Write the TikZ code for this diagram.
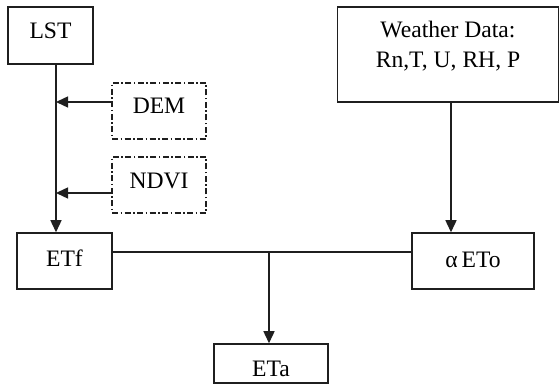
\documentclass[tikz,border=0pt]{standalone}
\usepackage{fontspec}
\setmainfont{Liberation Serif}
\usetikzlibrary{arrows.meta,calc}
\begin{document}
\begin{tikzpicture}[x=1pt,y=-1pt,
  box/.style={draw=black!88,line width=1.5pt,inner sep=0pt,text height=16pt,
    font=\fontsize{23.6}{30}\selectfont},
  dbox/.style={box,line width=1.3pt,dash pattern=on 6pt off 2.5pt on 1.5pt off 2.5pt},
  conn/.style={draw=black!88,line width=1.4pt},
  arr/.style={conn,-{Triangle[length=12pt,width=11pt]}}]
\useasboundingbox (0,0) rectangle (560,387);
\node[box,minimum width=85pt,minimum height=57pt,text depth=9pt] (lst) at (50.5,35.5) {LST};
\node[dbox,minimum width=94pt,minimum height=56pt,text depth=11pt] (dem) at (159,111) {DEM};
\node[dbox,minimum width=94pt,minimum height=56pt,text depth=9pt] (ndvi) at (159,185) {NDVI};
\node[box,minimum width=95pt,minimum height=56pt,text depth=4pt] (etf) at (64.5,261) {ETf};
\node[box,minimum width=221pt,minimum height=95pt,align=center,text height=43pt,text depth=16pt] (wd) at (448,54.5) {Weather Data:\\Rn,T, U, RH, P};
\node[box,minimum width=122pt,minimum height=56pt,text depth=3pt] (eto) at (473,261) {α\,ETo};
\node[box,minimum width=114pt,minimum height=39pt,text depth=0pt,text height=26pt] (eta) at (271,363.5) {ETa};
\coordinate (vl) at (56,0);
\coordinate (vw) at (451,0);
\coordinate (vj) at (269,252);
\draw[arr] (lst.south -| vl) -- (etf.north -| vl);
\draw[arr] ([yshift=9pt]dem.west) -- ([yshift=9pt]dem.west -| vl);
\draw[arr] ([yshift=-8pt]ndvi.west) -- ([yshift=-8pt]ndvi.west -| vl);
\draw[arr] (wd.south -| vw) -- (eto.north -| vw);
\draw[conn] ([yshift=9pt]etf.east) -- ([yshift=9pt]eto.west);
\draw[arr] (vj) -- (eta.north -| vj);
\end{tikzpicture}
\end{document}
